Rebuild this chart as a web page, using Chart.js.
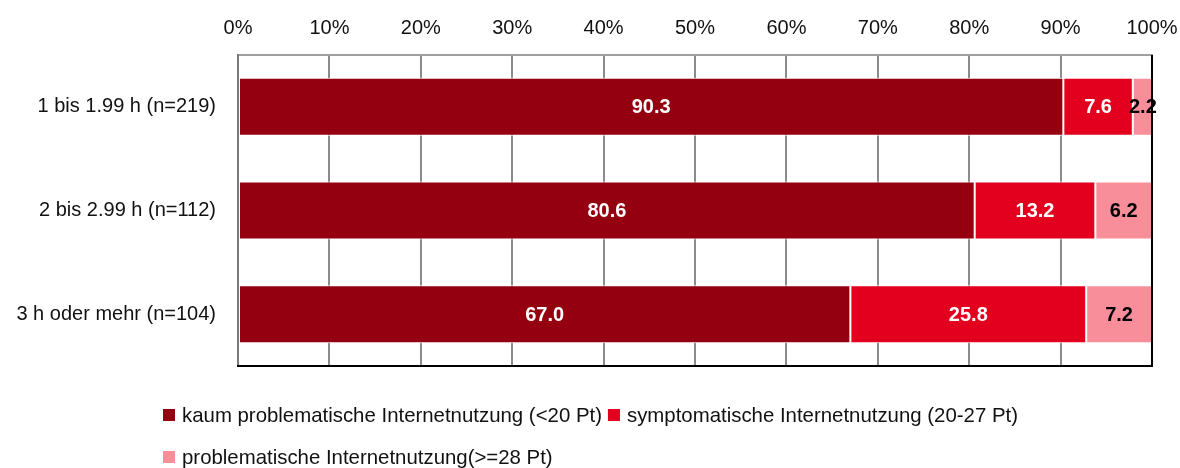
<!DOCTYPE html>
<html>
<head>
<meta charset="utf-8">
<script src="https://cdn.jsdelivr.net/npm/chart.js@4/dist/chart.umd.min.js"></script>
<style>
  html, body { margin: 0; padding: 0; background: #fff; }
  #wrap { width: 1180px; height: 468px; }
</style>
</head>
<body>
<div id="wrap"><canvas id="myChart"></canvas></div>
<script>
var categories = ['1 bis 1.99 h (n=219)', '2 bis 2.99 h (n=112)', '3 h oder mehr (n=104)'];
var kaum = [90.3, 80.6, 67.0];
var symptomatisch = [7.6, 13.2, 25.8];
var problematisch = [2.2, 6.2, 7.2];
var seriesNames = [
  'kaum problematische Internetnutzung (<20 Pt)',
  'symptomatische Internetnutzung (20-27 Pt)',
  'problematische Internetnutzung(>=28 Pt)'
];
var colors = ['#940010', '#E2001E', '#F78E9A'];
var labelColors = ['#ffffff', '#ffffff', '#000000'];

var FONT = "'Liberation Sans Narrow', 'Arial Narrow', 'Liberation Sans', sans-serif";

// Wertebeschriftungen in den Balken
var valueLabels = {
  id: 'valueLabels',
  afterDatasetsDraw: function (chart) {
    var ctx = chart.ctx;
    ctx.save();
    ctx.font = 'bold 20px ' + FONT;
    ctx.textAlign = 'center';
    ctx.textBaseline = 'middle';
    chart.data.datasets.forEach(function (ds, i) {
      var meta = chart.getDatasetMeta(i);
      meta.data.forEach(function (bar, j) {
        var mid = (bar.x + bar.base) / 2;
        ctx.fillStyle = labelColors[i];
        ctx.fillText(ds.data[j].toFixed(1), mid, bar.y + 1);
      });
    });
    ctx.restore();
  }
};

// Rahmen rechts und unten
var frame = {
  id: 'frame',
  afterDatasetsDraw: function (chart) {
    var a = chart.chartArea, ctx = chart.ctx;
    ctx.save();
    ctx.strokeStyle = '#000';
    ctx.lineWidth = 2;
    ctx.beginPath();
    ctx.moveTo(a.right, a.top);
    ctx.lineTo(a.right, a.bottom);
    ctx.lineTo(a.left - 1, a.bottom);
    ctx.stroke();
    ctx.restore();
  }
};

// Legende unten, zwei Zeilen, linksbuendig
var legendBelow = {
  id: 'legendBelow',
  afterDraw: function (chart) {
    var ctx = chart.ctx;
    ctx.save();
    ctx.font = '20.4px ' + FONT;
    ctx.textBaseline = 'middle';
    ctx.textAlign = 'left';
    var rows = [[0, 1], [2]];
    var rowY = [415, 457];
    var startX = 163;
    rows.forEach(function (row, r) {
      var x = startX;
      row.forEach(function (i) {
        ctx.fillStyle = colors[i];
        ctx.fillRect(x, rowY[r] - 6, 12, 12);
        x += 19;
        ctx.fillStyle = '#111';
        ctx.fillText(seriesNames[i], x, rowY[r] + 1);
        x += ctx.measureText(seriesNames[i]).width + 6;
      });
    });
    ctx.restore();
  }
};

var datasets = [kaum, symptomatisch, problematisch].map(function (vals, i) {
  return {
    label: seriesNames[i],
    data: vals,
    backgroundColor: colors[i],
    borderColor: '#ffffff',
    borderWidth: 1,
    borderSkipped: false,
    barPercentage: 0.56,
    categoryPercentage: 1.0
  };
});

var ctx = document.getElementById('myChart').getContext('2d');
var myChart = new Chart(ctx, {
  type: 'bar',
  data: { labels: categories, datasets: datasets },
  options: {
    indexAxis: 'y',
    responsive: true,
    maintainAspectRatio: false,
    animation: false,
    layout: { padding: { top: 0, right: 28, bottom: 102, left: 0 } },
    plugins: { legend: { display: false }, tooltip: { enabled: false } },
    scales: {
      x: {
        position: 'top',
        stacked: true,
        min: 0,
        max: 100,
        afterFit: function (s) { s.height = 55; s.paddingLeft = 0; s.paddingRight = 0; },
        ticks: {
          stepSize: 10,
          padding: 15,
          color: '#111',
          font: { family: FONT, size: 20 },
          callback: function (v) { return v + '%'; }
        },
        grid: { color: '#8c8c8c', lineWidth: 2, drawTicks: false },
        border: { color: '#a0a0a0', width: 2 }
      },
      y: {
        stacked: true,
        afterFit: function (s) { s.width = 238; s.paddingTop = 0; s.paddingBottom = 0; },
        ticks: {
          padding: 22,
          color: '#111',
          font: { family: FONT, size: 20 }
        },
        grid: { display: false, drawTicks: false },
        border: { color: '#7a7a7a', width: 2 }
      }
    }
  },
  plugins: [valueLabels, frame, legendBelow]
});
</script>
</body>
</html>
